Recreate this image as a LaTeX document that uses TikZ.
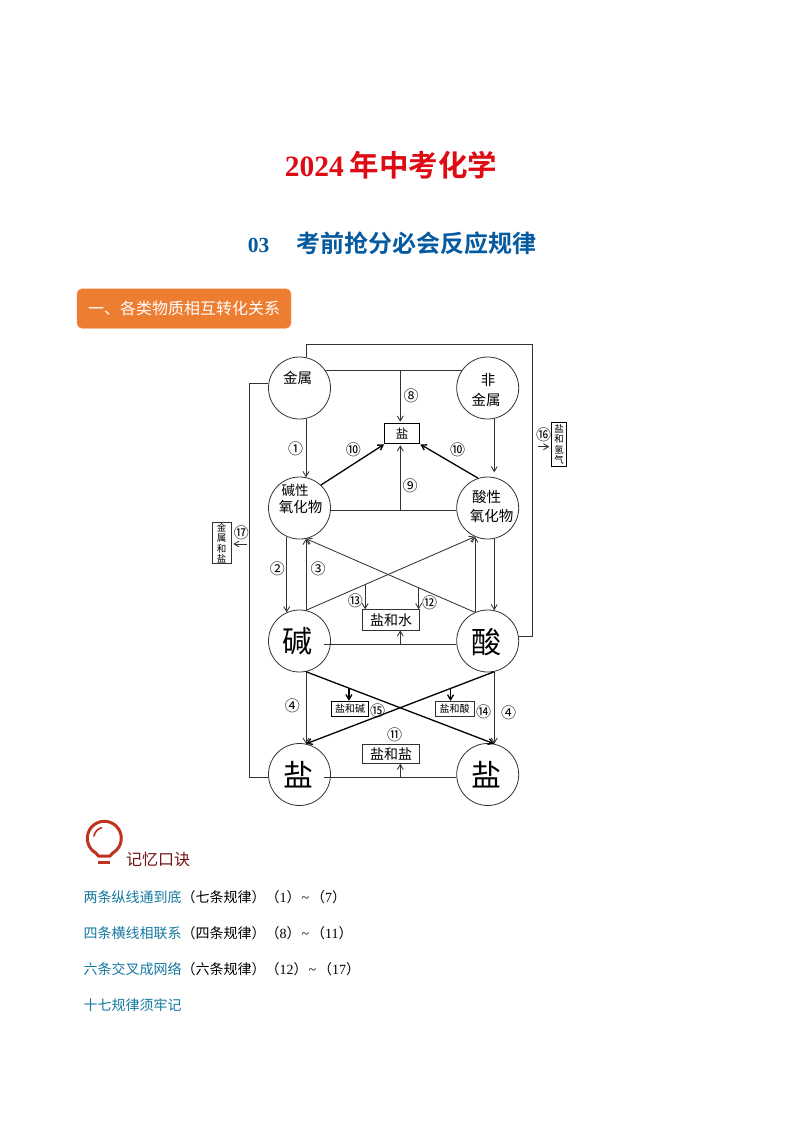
\documentclass[tikz,border=0pt]{standalone}
\usepackage{fontspec}
\usetikzlibrary{arrows.meta}
\usetikzlibrary{calc}
\setmainfont{Liberation Serif}
\newfontfamily\cjk[BoldFont=* Bold]{Noto Sans CJK SC}
\definecolor{titlered}{RGB}{222,10,20}
\definecolor{titleblue}{RGB}{5,90,160}
\definecolor{tagorange}{RGB}{237,125,49}
\definecolor{bulbred}{RGB}{190,50,30}
\definecolor{memored}{RGB}{110,20,20}
\definecolor{rhymeteal}{RGB}{20,120,160}
\definecolor{linegrey}{RGB}{50,50,50}
\newcommand{\pxfont}[1]{\fontsize{#1}{#1}\selectfont}
\newcommand{\swung}{\hspace{1pt}{\rmfamily\char"7E}\hspace{2pt}}
\tikzset{
  >={Straight Barb[length=5pt,width=6pt]},
  ball/.style={draw=linegrey,circle,line width=0.8pt,minimum size=62pt,inner sep=0pt},
  balltext/.style={inner sep=0pt,font=\cjk\pxfont{14.5}},
  bigtext/.style={inner sep=0pt,font=\cjk\pxfont{30}},
  numtag/.style={inner sep=0pt,font=\cjk\pxfont{15}},
  conn/.style={draw=linegrey,line width=0.85pt},
  thickconn/.style={draw=black,line width=1.3pt},
  resultbox/.style={draw=linegrey,line width=0.8pt,inner sep=0pt,font=\cjk\pxfont{14}},
  smallbox/.style={draw=black,line width=1.1pt,inner sep=0pt,font=\cjk\pxfont{10}},
  sidebox/.style={draw=linegrey,line width=0.8pt,inner sep=0pt,align=center,font=\cjk\fontsize{9.5}{10.5}\selectfont},
  rhyme/.style={anchor=west,inner sep=0pt,font=\cjk\pxfont{14}}
}
\begin{document}
\begin{tikzpicture}[x=1pt,y=-1pt]
  \useasboundingbox (0,0) rectangle (794,1123);

  \node[inner sep=0pt,text=titlered,font=\rmfamily\bfseries\pxfont{29.5}] (title) at (391,165.5) {2024\hspace{6pt}{\cjk\bfseries 年中考化学}};
  \node[inner sep=0pt,text=titleblue,font=\rmfamily\bfseries\pxfont{21.5}] (subtitle) at (392,243.5) {03\hspace{27pt}{\cjk\bfseries\pxfont{24}考前抢分必会反应规律}};
  \node[fill=tagorange,draw=tagorange!80!white,rounded corners=5pt,minimum width=214pt,minimum height=39.5pt,inner sep=0pt,text=white,font=\cjk\pxfont{16}] (tag) at (184,308.5) {一、各类物质相互转化关系};

  \node[ball] (jinshu) at (299.5,388) {};
  \node[ball] (feijinshu) at (487.7,388) {};
  \node[ball] (jianxing) at (299.5,508) {};
  \node[ball] (suanxing) at (487.7,508) {};
  \node[ball] (jian) at (299.5,641) {};
  \node[ball] (suan) at (487.7,641) {};
  \node[ball] (yanl) at (299.5,774.5) {};
  \node[ball] (yanr) at (487.7,774.5) {};

  \node[balltext] (jinshutext) at (297.7,378.3) {金属};
  \node[balltext] (feitext) at (488,380) {非};
  \node[balltext] (feijintext) at (486,400) {金属};
  \node[balltext,font=\cjk\pxfont{13.5}] (jianxingtext) at (295,490.5) {碱性};
  \node[balltext] (jianyangtext) at (300.7,506.5) {氧化物};
  \node[balltext] (suanxingtext) at (486.7,497.3) {酸性};
  \node[balltext] (suanyangtext) at (491.7,516) {氧化物};
  \node[bigtext] (jiantext) at (297.7,641.5) {碱};
  \node[bigtext] (suantext) at (486,642.5) {酸};
  \node[bigtext] (yanltext) at (298.3,775) {盐};
  \node[bigtext] (yanrtext) at (486,775) {盐};

  \node[draw=black,line width=1.2pt,minimum width=35pt,minimum height=20.4pt,inner sep=0pt,font=\cjk\pxfont{12.5}] (yanbox) at (402.2,433.5) {盐};
  \node[resultbox,minimum width=56.6pt,minimum height=20.3pt] (shuibox) at (391,619.8) {盐和水};
  \node[resultbox,minimum width=56.6pt,minimum height=19.3pt] (yanyanbox) at (391,753.7) {盐和盐};
  \node[smallbox,minimum width=36.6pt,minimum height=14.7pt] (jianbox) at (350,708.7) {盐和碱};
  \node[draw=linegrey,line width=0.8pt,inner sep=0pt,font=\cjk\pxfont{10},minimum width=39.3pt,minimum height=14.7pt] (suanbox) at (454.7,708.7) {盐和酸};
  \node[sidebox,draw=black,line width=0.9pt,minimum width=15pt,minimum height=44.7pt] (qingbox) at (559.2,444.3) {盐\\和\\氢\\气};
  \node[sidebox,minimum width=19pt,minimum height=41pt] (jinyanbox) at (221.5,543.2) {金\\属\\和\\盐};

  \coordinate (looptr) at (532.3,344.3);
  \coordinate (leftbus) at (249.7,600);
  \coordinate (topmid) at (400.3,370.2);
  \coordinate (midmid) at (400.3,510.7);
  \coordinate (jianin) at (324,644);
  \coordinate (suanmid) at (400.3,644);
  \coordinate (yanin) at (324,777);
  \coordinate (yanmid) at (400.3,777);
  \coordinate (out16) at (537.5,446.7);
  \coordinate (out17) at (246.7,544);

  \draw[conn] (jinshu.78) |- (looptr) |- (suan.8);
  \draw[conn] (jinshu.171) -| (leftbus) |- (yanl.185);
  \draw[conn] (jinshu.35) -- (feijinshu.145);
  \draw[conn,->] (topmid) -- ($(topmid |- yanbox.north)+(0,-1)$);
  \draw[conn] (jianxing.east |- midmid) -- (suanxing.west |- midmid);
  \draw[conn,->] (midmid) -- ($(midmid |- yanbox.south)+(0,1)$);
  \draw[conn] (jianin) -- (suan.west |- jianin);
  \draw[conn,->] (suanmid) -- (suanmid |- shuibox.south);
  \draw[conn] (yanin) -- (yanr.west |- yanin);
  \draw[conn,->] (yanmid) -- (yanmid |- yanyanbox.south);

  \draw[conn,->] (jinshu.-78) -- (jianxing.78);
  \draw[conn,->,shorten >=5pt] (feijinshu.-78) -- (suanxing.78);
  \draw[thickconn,->] (jianxing.47) -- (yanbox.south west);
  \draw[thickconn,->] (suanxing.108) -- (yanbox.south east);

  \draw[conn,->] (jianxing.-114) -- (jian.114);
  \draw[conn,->] (jian.78) -- (jianxing.-78);
  \draw[conn,->] (suan.114) -- (suanxing.-114);
  \draw[conn,->] (suanxing.-78) -- (suan.78);
  \draw[conn,->] (jian.78) -- coordinate[pos=0.35] (diagup) (suanxing.-114);
  \draw[conn,->] (suan.114) -- coordinate[pos=0.333] (diagdown) (jianxing.-78);
  \draw[conn,->] (diagup) -- (diagup |- shuibox.north);
  \draw[conn,->] (diagdown) -- (diagdown |- shuibox.north);

  \draw[conn,->] (jian.-78) -- (yanl.78);
  \draw[conn,->] (suan.-78) -- (yanr.78);
  \draw[thickconn,->] (jian.-78) -- coordinate[pos=0.228] (crossone) (yanr.78);
  \draw[thickconn,->] (suan.-78) -- coordinate[pos=0.232] (crosstwo) (yanl.78);
  \draw[thickconn,->] (crossone) -- (crossone |- jianbox.north);
  \draw[thickconn,->] (crosstwo) -- (crosstwo |- suanbox.north);

  \draw[conn,->] (out16) -- ($(qingbox.west |- out16)+(-2,0)$);
  \draw[conn,->] (out17) -- ($(jinyanbox.east |- out17)+(2,0)$);

  \node[numtag] (n1) at (295.7,449) {①};
  \node[numtag] (n2) at (277.3,569) {②};
  \node[numtag] (n3) at (318,569) {③};
  \node[numtag] (n4l) at (292.3,706) {④};
  \node[numtag] (n4r) at (508.7,712.3) {④};
  \node[numtag] (n8) at (411,396) {⑧};
  \node[numtag] (n9) at (410,485.7) {⑨};
  \node[numtag] (n10l) at (353.3,449.7) {⑩};
  \node[numtag] (n10r) at (457.7,449.7) {⑩};
  \node[numtag] (n11) at (394.7,734.3) {⑪};
  \node[numtag] (n12) at (429.7,602.7) {⑫};
  \node[numtag] (n13) at (355.3,600.7) {⑬};
  \node[numtag] (n14) at (483.7,711.7) {⑭};
  \node[numtag] (n15) at (377.7,711) {⑮};
  \node[numtag] (n16) at (543.7,435) {⑯};
  \node[numtag] (n17) at (241.3,532.7) {⑰};

  \draw[bulbred,line width=3pt,line join=round] (95.8,853) arc[start angle=120,end angle=420,radius=17] -- (110,856) -- (98.5,856) -- cycle;
  \draw[bulbred,line width=1.6pt,line cap=round] (94,836) arc[start angle=190,end angle=255,radius=10.5];
  \draw[bulbred,line width=2.4pt] (98.3,862.3) -- (110,862.3);

  \node[rhyme,text=memored,font=\cjk\pxfont{16}] (memo) at (126,859) {记忆口诀};
  \node[rhyme] (lineone) at (83.3,897.3) {\textcolor{rhymeteal}{两条纵线通到底}（七条规律）（{\rmfamily 1}）\swung（{\rmfamily 7}）};
  \node[rhyme] (linetwo) at (83.3,933.3) {\textcolor{rhymeteal}{四条横线相联系}（四条规律）（{\rmfamily 8}）\swung（{\rmfamily 11}）};
  \node[rhyme] (linethree) at (83.3,969.3) {\textcolor{rhymeteal}{六条交叉成网络}（六条规律）（{\rmfamily 12}）\swung（{\rmfamily 17}）};
  \node[rhyme,text=rhymeteal] (linefour) at (83.3,1005) {十七规律须牢记};
\end{tikzpicture}
\end{document}
